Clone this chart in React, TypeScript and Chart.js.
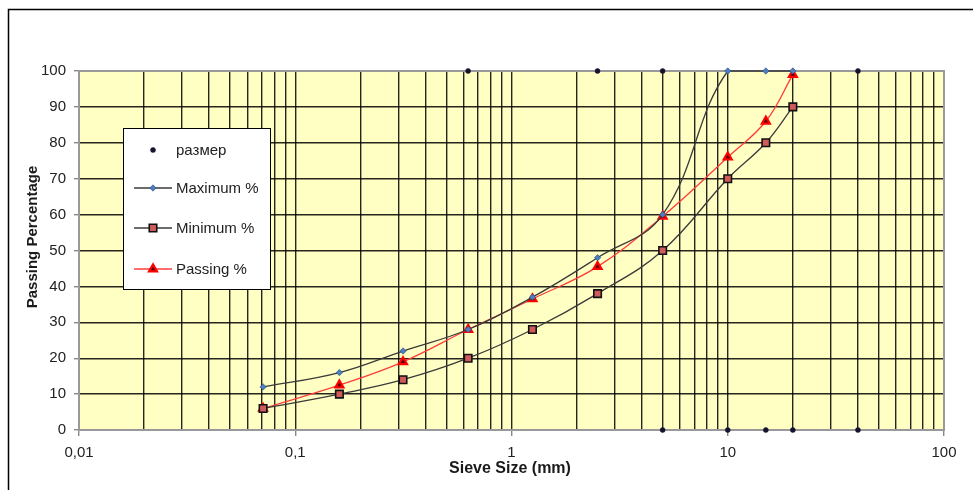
import React, { useEffect, useRef } from 'react';
import { Chart, registerables } from 'chart.js';
import { drawPoint } from 'chart.js/helpers';

Chart.register(...registerables);

// ---- data ----
const sieveSizes = [0.071, 0.16, 0.315, 0.63, 1.25, 2.5, 5, 10, 15, 20];
const maximumPct = [12, 16, 22, 28, 37, 48, 60, 100, 100, 100];
const minimumPct = [6, 10, 14, 20, 28, 38, 50, 70, 80, 90];
const passingPct = [6, 12.5, 19, 28, 36.5, 45.5, 59.5, 76, 86, 99];
const razmerSizes = [0.63, 2.5, 5, 40, 5, 10, 15, 20, 40];
const razmerValues = [100, 100, 100, 100, 0, 0, 0, 0, 0];
const seriesNames = ['размер', 'Maximum %', 'Minimum %', 'Passing %'];
const xDecades = [0.01, 0.1, 1, 10];
const xLastTick = 100;
const xMultipliers = [1, 2, 3, 4, 5, 6, 7, 8, 9];
const xTickLabels = ['0,01', '0,1', '1', '10', '100'];
const yMin = 0;
const yMax = 100;
const yStep = 10;
const xTitle = 'Sieve Size (mm)';
const yTitle = 'Passing Percentage';

const FONT = "'Liberation Sans', Arial, sans-serif";

const xTickValues: number[] = [];
xDecades.forEach((d) => xMultipliers.forEach((m) => xTickValues.push(d * m)));
xTickValues.push(xLastTick);

const toXY = (xs: number[], ys: number[]) => xs.map((x, i) => ({ x, y: ys[i] }));

const decor = {
  id: 'decor',
  beforeDraw(chart: any) {
    const { ctx, chartArea: a, width, height } = chart;
    ctx.save();
    ctx.fillStyle = '#ffffff';
    ctx.fillRect(0, 0, width, height);
    ctx.strokeStyle = '#000';
    ctx.lineWidth = 1.5;
    ctx.beginPath();
    ctx.moveTo(8.5, height + 5);
    ctx.lineTo(8.5, 9.5);
    ctx.lineTo(width + 5, 9.5);
    ctx.stroke();
    ctx.fillStyle = '#FFFFC4';
    ctx.fillRect(a.left, a.top, a.right - a.left, a.bottom - a.top);
    ctx.restore();
  },
  beforeDatasetsDraw(chart: any) {
    const { ctx, chartArea: a } = chart;
    ctx.save();
    ctx.strokeStyle = '#999';
    ctx.lineWidth = 2;
    ctx.strokeRect(a.left, a.top, a.right - a.left, a.bottom - a.top);
    ctx.restore();
  },
  afterDraw(chart: any) {
    const { ctx } = chart;
    ctx.save();
    // axis titles
    ctx.fillStyle = '#1a1a1a';
    ctx.font = `bold 16px ${FONT}`;
    ctx.textAlign = 'center';
    ctx.textBaseline = 'middle';
    ctx.fillText(xTitle, 510, 469);
    ctx.save();
    ctx.translate(33, 237);
    ctx.rotate(-Math.PI / 2);
    ctx.font = `bold 15px ${FONT}`;
    ctx.fillText(yTitle, 0, 0);
    ctx.restore();

    // legend
    const bx = 123, by = 128, bw = 147, bh = 161;
    ctx.fillStyle = '#fff';
    ctx.fillRect(bx, by, bw, bh);
    ctx.strokeStyle = '#000';
    ctx.lineWidth = 1;
    ctx.strokeRect(bx + 0.5, by + 0.5, bw, bh);
    const rows = [150, 188, 228, 269];
    chart.data.datasets.forEach((ds: any, i: number) => {
      const y = rows[i];
      if (ds.showLine) {
        ctx.strokeStyle = ds.borderColor;
        ctx.lineWidth = ds.borderWidth;
        ctx.beginPath();
        ctx.moveTo(134, y);
        ctx.lineTo(172, y);
        ctx.stroke();
      }
      ctx.fillStyle = ds.pointBackgroundColor;
      ctx.strokeStyle = ds.pointBorderColor;
      ctx.lineWidth = ds.pointBorderWidth;
      drawPoint(ctx, { pointStyle: ds.pointStyle, radius: ds.pointRadius, rotation: 0, borderWidth: ds.pointBorderWidth }, 153, y);
      ctx.fillStyle = '#222';
      ctx.font = `15px ${FONT}`;
      ctx.textAlign = 'left';
      ctx.textBaseline = 'middle';
      ctx.fillText(ds.label, 176, y + 1);
    });
    ctx.restore();
  },
};

export default function App() {
  const ref = useRef<HTMLCanvasElement>(null);
  useEffect(() => {
    document.body.style.margin = '0';
    const chart = new Chart(ref.current as HTMLCanvasElement, {
      type: 'scatter',
      data: {
        datasets: [
          {
            label: seriesNames[0],
            data: toXY(razmerSizes, razmerValues),
            showLine: false,
            pointStyle: 'circle',
            pointRadius: 2.5,
            pointBackgroundColor: '#14142e',
            pointBorderColor: '#14142e',
            pointBorderWidth: 0.5,
            clip: false,
          } as any,
          {
            label: seriesNames[1],
            data: toXY(sieveSizes, maximumPct),
            showLine: true,
            tension: 0.4,
            borderColor: '#3a3a3a',
            borderWidth: 1.3,
            pointStyle: 'rectRot',
            pointRadius: 3.2,
            pointBackgroundColor: '#4a80c0',
            pointBorderColor: '#2a4a7a',
            pointBorderWidth: 0.6,
            clip: false,
          },
          {
            label: seriesNames[2],
            data: toXY(sieveSizes, minimumPct),
            showLine: true,
            tension: 0.4,
            borderColor: '#3a3a3a',
            borderWidth: 1.3,
            pointStyle: 'rect',
            pointRadius: 5.3,
            pointBackgroundColor: '#cf5b5b',
            pointBorderColor: '#111',
            pointBorderWidth: 1.6,
            clip: false,
          },
          {
            label: seriesNames[3],
            data: toXY(sieveSizes, passingPct),
            showLine: true,
            tension: 0.4,
            borderColor: '#ff3c3c',
            borderWidth: 1.3,
            pointStyle: 'triangle',
            pointRadius: 4.6,
            pointBackgroundColor: '#500000',
            pointBorderColor: '#ff0000',
            pointBorderWidth: 2.2,
            clip: false,
          },
        ],
      },
      options: {
        responsive: false,
        animation: false,
        devicePixelRatio: 1,
        layout: { padding: { left: 0, top: 71, right: 29, bottom: 0 } },
        plugins: { legend: { display: false }, tooltip: { enabled: false } },
        scales: {
          x: {
            type: 'logarithmic',
            min: xTickValues[0],
            max: xLastTick,
            afterBuildTicks: (scale: any) => {
              scale.ticks = xTickValues.map((v) => ({ value: v }));
            },
            afterFit: (scale: any) => {
              scale.height = 60;
            },
            ticks: {
              autoSkip: false,
              maxRotation: 0,
              padding: 8,
              color: '#222',
              font: { family: FONT, size: 15 },
              callback: (_v: any, i: number) => (i % 9 === 0 ? xTickLabels[i / 9] : ''),
            },
            grid: {
              color: 'rgba(0,0,0,0.85)',
              lineWidth: 1.4,
              tickLength: 6,
              tickColor: (c: any) => (c.index % 9 === 0 ? '#888' : 'rgba(0,0,0,0)'),
            },
            border: { color: '#999', width: 2 },
          },
          y: {
            type: 'linear',
            min: yMin,
            max: yMax,
            afterFit: (scale: any) => {
              scale.width = 79;
            },
            ticks: {
              stepSize: yStep,
              padding: 8,
              color: '#222',
              font: { family: FONT, size: 15 },
            },
            grid: {
              color: 'rgba(0,0,0,0.85)',
              lineWidth: 1.4,
              tickLength: 5,
              tickColor: '#888',
            },
            border: { color: '#999', width: 2 },
          },
        },
      },
      plugins: [decor],
    });
    return () => chart.destroy();
  }, []);
  return (
    <div style={{ width: 973, height: 490 }}>
      <canvas ref={ref} width={973} height={490} style={{ display: 'block' }} />
    </div>
  );
}
